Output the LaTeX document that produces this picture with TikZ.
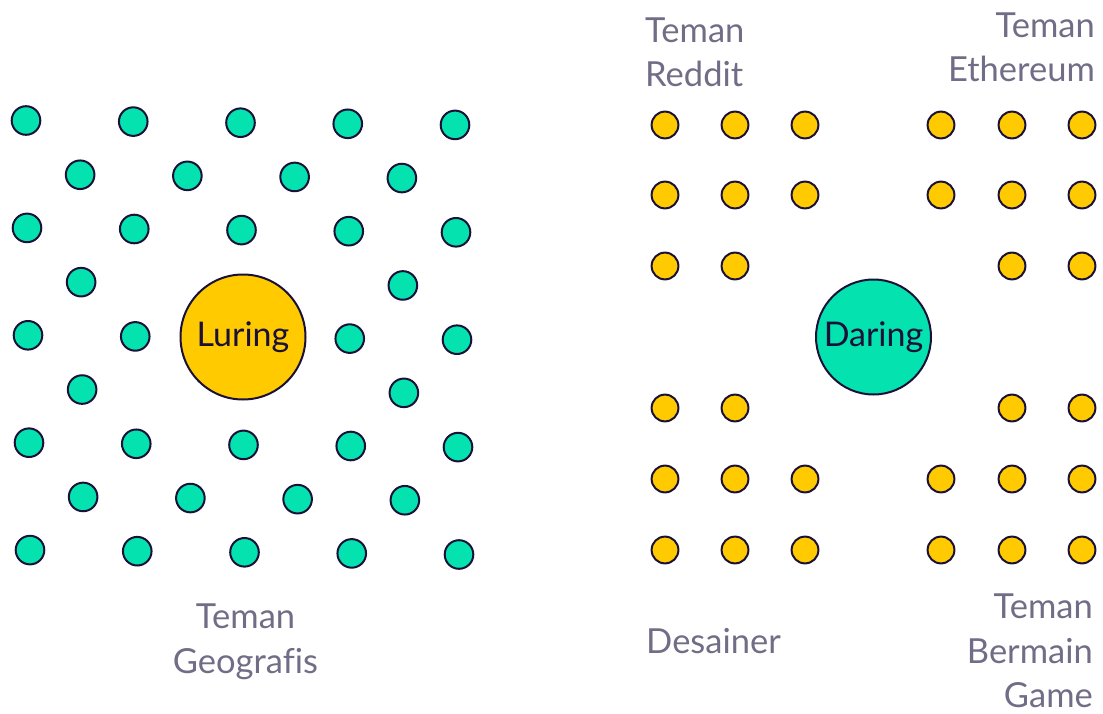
\documentclass[tikz,border=0pt]{standalone}
\usepackage{fontspec}
\setmainfont{Lato}[Ligatures={TeX,NoCommon}]
\definecolor{teal}{HTML}{03E2AF}
\definecolor{gold}{HTML}{FFCB00}
\definecolor{ink}{HTML}{1A1038}
\definecolor{labelgray}{HTML}{726D86}
\tikzset{
  dotT/.style={circle,draw=ink,line width=2pt,fill=teal,minimum size=28.6pt,inner sep=0pt},
  dotY/.style={circle,draw=ink,line width=2pt,fill=gold,minimum size=26.8pt,inner sep=0pt},
  bigT/.style={circle,draw=ink,line width=2pt,fill=teal,minimum size=115pt,inner sep=0pt,font=\fontsize{34}{40}\selectfont,text=ink},
  bigY/.style={circle,draw=ink,line width=2pt,fill=gold,minimum size=125pt,inner sep=0pt,font=\fontsize{34}{40}\selectfont,text=ink},
  grouplabel/.style={inner sep=0pt,text=labelgray,font=\fontsize{34.5}{44.5}\selectfont}
}
\begin{document}
\begin{tikzpicture}[x=1pt,y=-1pt]
\useasboundingbox (0,0) rectangle (1103,714);
% left cluster: integer-column rows
\foreach \r in {0,2,6,8}{
  \foreach \c in {0,...,4}{
    \node[dotT] (t\r-\c) at ({26+107.25*\c+0.5*\r},{120.5+1.1*\c+53.7*\r}) {};
  }
}
\foreach \c in {0,1,3,4}{
  \node[dotT] (t4-\c) at ({26+107.25*\c+2},{120.5+1.1*\c+53.7*4}) {};
}
% left cluster: half-column rows
\foreach \r in {1,7}{
  \foreach \c in {0,...,3}{
    \node[dotT] (t\r-h\c) at ({26+107.25*(\c+0.5)+0.5*\r},{120.5+1.1*(\c+0.5)+53.7*\r}) {};
  }
}
\foreach \r in {3,5}{
  \foreach \c in {0,3}{
    \node[dotT] (t\r-h\c) at ({26+107.25*(\c+0.5)+0.5*\r},{120.5+1.1*(\c+0.5)+53.7*\r}) {};
  }
}
\node[bigY] (luring) at (243,337) {Luring};
% right cluster
\foreach \y [count=\i] in {125,195,479,550}{
  \foreach \x [count=\j] in {665,735,805,941,1012,1082}{
    \node[dotY] (y\i-\j) at (\x,\y) {};
  }
}
\foreach \y [count=\i] in {266,408}{
  \foreach \x [count=\j] in {665,735,1012,1082}{
    \node[dotY] (m\i-\j) at (\x,\y) {};
  }
}
\node[bigT] (daring) at (873.5,337) {Daring};
% labels
\node[grouplabel,anchor=north west,align=left] (reddit) at (645,17.5) {Teman\\Reddit};
\node[grouplabel,anchor=north east,align=right] (eth) at (1095,12.5) {Teman\\Ethereum};
\node[grouplabel,anchor=north,align=center] (geo) at (245.5,604) {Teman\\Geografis};
\node[grouplabel,anchor=north west,align=left] (des) at (646,628) {Desainer};
\node[grouplabel,anchor=north east,align=right] (game) at (1093,594) {Teman\\Bermain\\Game};
\end{tikzpicture}
\end{document}
